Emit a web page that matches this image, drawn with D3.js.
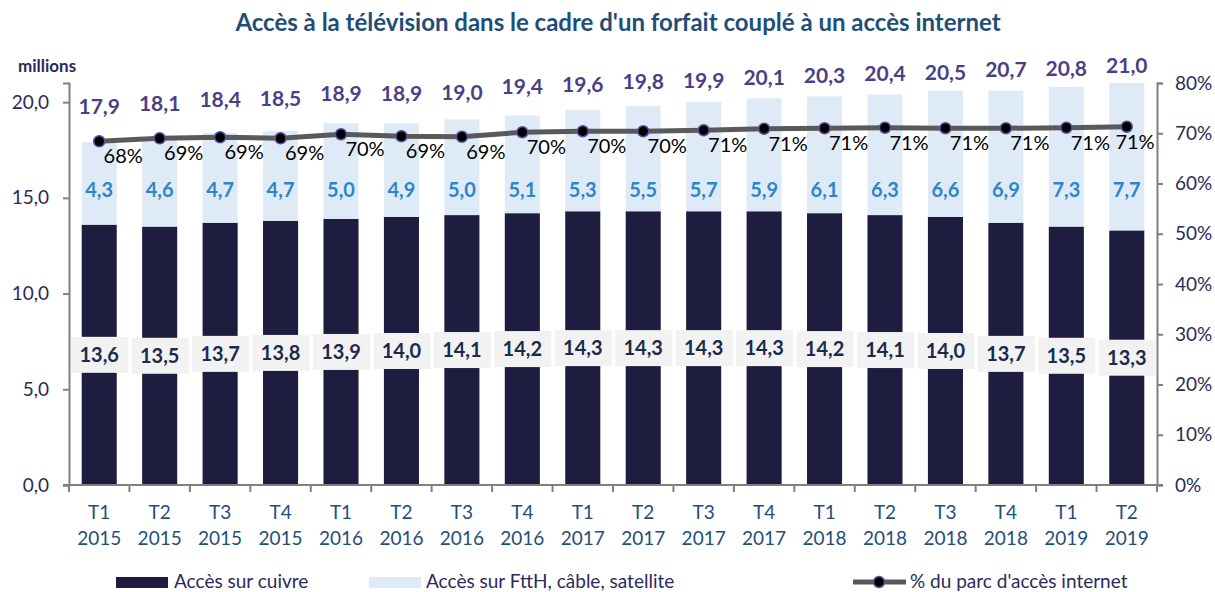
<!DOCTYPE html>
<html>
<head>
<meta charset="utf-8">
<script src="https://cdn.jsdelivr.net/npm/d3@7"></script>
<style>
  body { margin: 0; background: #fff; font-family: Lato, "Open Sans", sans-serif; }
  svg { display: block; }
</style>
</head>
<body>
<div id="chart"></div>
<script>
// Accès TV via forfait couplé — stacked bars + % line

const quarters = ["T1","T2","T3","T4","T1","T2","T3","T4","T1","T2","T3","T4","T1","T2","T3","T4","T1","T2"];
const years = ["2015","2015","2015","2015","2016","2016","2016","2016","2017","2017","2017","2017","2018","2018","2018","2018","2019","2019"];
const cuivre = [13.6,13.5,13.7,13.8,13.9,14.0,14.1,14.2,14.3,14.3,14.3,14.3,14.2,14.1,14.0,13.7,13.5,13.3];
const ftth = [4.3,4.6,4.7,4.7,5.0,4.9,5.0,5.1,5.3,5.5,5.7,5.9,6.1,6.3,6.6,6.9,7.3,7.7];
const totals = [17.9,18.1,18.4,18.5,18.9,18.9,19.0,19.4,19.6,19.8,19.9,20.1,20.3,20.4,20.5,20.7,20.8,21.0];
const pctParc = [68.4,69.0,69.2,69.0,69.8,69.4,69.3,70.2,70.4,70.4,70.6,70.9,71.0,71.1,71.0,71.0,71.1,71.3];
const leftTicks = [0,5,10,15,20];
const rightTicks = [0,10,20,30,40,50,60,70,80];

const W = 1215, H = 592;
const margin = { top: 83, right: 58, bottom: 107, left: 69 };
const width = W - margin.left - margin.right;
const height = H - margin.top - margin.bottom;

const fmt = d3.format(".1f");
const comma = v => fmt(v).replace(".", ",");

const data = quarters.map((q, i) => ({
  key: i, q: q, y: years[i], cu: cuivre[i], ft: ftth[i], tot: totals[i], pct: pctParc[i]
}));

const svg = d3.select("#chart").append("svg")
  .attr("width", W).attr("height", H);

svg.append("text")
  .attr("x", 618).attr("y", 31)
  .attr("text-anchor", "middle")
  .style("font-size", "24px").style("font-weight", "700")
  .style("fill", "#1f4e79")
  .text("Accès à la télévision dans le cadre d'un forfait couplé à un accès internet");

svg.append("text")
  .attr("x", 18).attr("y", 72)
  .style("font-size", "17px").style("font-weight", "700")
  .style("fill", "#2b2a5a")
  .text("millions");

const g = svg.append("g").attr("transform", `translate(${margin.left},${margin.top})`);

const x = d3.scaleBand().domain(data.map(d => d.key)).range([0, width]).paddingInner(0.42).paddingOuter(0.21);
const y = d3.scaleLinear().domain([0, 21]).range([height, 0]);
const y2 = d3.scaleLinear().domain([0, 80]).range([height, 0]);

// bars
g.selectAll(".cu").data(data).enter().append("rect")
  .attr("x", d => x(d.key)).attr("width", x.bandwidth())
  .attr("y", d => y(d.cu)).attr("height", d => y(0) - y(d.cu))
  .attr("fill", "#1e1c3f");

g.selectAll(".ft").data(data).enter().append("rect")
  .attr("x", d => x(d.key)).attr("width", x.bandwidth())
  .attr("y", d => y(d.cu + d.ft)).attr("height", d => y(d.cu) - y(d.cu + d.ft))
  .attr("fill", "#deebf7");

// axes
const axisColor = "#808080";
const styleAxis = sel => {
  sel.selectAll("path, line").attr("stroke", axisColor).attr("stroke-width", 2);
  sel.selectAll("text").style("font-size", "19px").style("fill", "#2b2a5a").style("font-family", "Lato, sans-serif");
};

const xAxis = g.append("g").attr("transform", `translate(0,${height})`);
xAxis.append("line").attr("x1", -6).attr("x2", width + 6).attr("stroke", axisColor).attr("stroke-width", 2);
const step = x.step();
xAxis.selectAll(".xt").data(d3.range(data.length + 1)).enter().append("line")
  .attr("x1", i => i * step).attr("x2", i => i * step)
  .attr("y1", 0).attr("y2", 7)
  .attr("stroke", axisColor).attr("stroke-width", 2);
const xl = xAxis.selectAll(".xl").data(data).enter().append("text")
  .attr("x", d => x(d.key) + x.bandwidth() / 2)
  .attr("text-anchor", "middle")
  .style("font-size", "19px").style("fill", "#1f4e79");
xl.append("tspan").attr("x", d => x(d.key) + x.bandwidth() / 2).attr("y", 34).text(d => d.q);
xl.append("tspan").attr("x", d => x(d.key) + x.bandwidth() / 2).attr("y", 60).text(d => d.y);

g.append("g")
  .call(d3.axisLeft(y).tickValues(leftTicks).tickSize(6).tickPadding(14).tickFormat(comma))
  .call(styleAxis);

g.append("g").attr("transform", `translate(${width},0)`)
  .call(d3.axisRight(y2).tickValues(rightTicks).tickSize(6).tickPadding(12).tickFormat(d => d + "%"))
  .call(styleAxis);

// copper labels in grey boxes
const cuLab = g.selectAll(".cul").data(data).enter().append("g")
  .attr("transform", d => `translate(${x(d.key) + x.bandwidth() / 2},${y(d.cu / 2)})`);
cuLab.append("rect").attr("x", -28).attr("y", -18).attr("width", 57).attr("height", 36).attr("fill", "#f2f2f2");
cuLab.append("text").attr("text-anchor", "middle").attr("dy", "0.36em")
  .style("font-size", "20px").style("font-weight", "700").style("fill", "#1b2b4b")
  .text(d => comma(d.cu));

// ftth labels
g.selectAll(".ftl").data(data).enter().append("text")
  .attr("x", d => x(d.key) + x.bandwidth() / 2)
  .attr("y", y(15.4))
  .attr("dy", "0.36em").attr("text-anchor", "middle")
  .style("font-size", "20px").style("font-weight", "700").style("fill", "#2e86c8")
  .text(d => comma(d.ft));

// total labels
g.selectAll(".tl").data(data).enter().append("text")
  .attr("x", d => x(d.key) + x.bandwidth() / 2)
  .attr("y", d => y(d.tot) - 36 + (d.tot - 17.9) * 6.1)
  .attr("dy", "0.36em").attr("text-anchor", "middle")
  .style("font-size", "21px").style("font-weight", "700").style("fill", "#4b3f87")
  .text(d => comma(d.tot));

// line
const line = d3.line().x(d => x(d.key) + x.bandwidth() / 2).y(d => y2(d.pct));
g.append("path").datum(data).attr("d", line)
  .attr("fill", "none").attr("stroke", "#595959").attr("stroke-width", 5);
g.selectAll(".pt").data(data).enter().append("circle")
  .attr("cx", d => x(d.key) + x.bandwidth() / 2).attr("cy", d => y2(d.pct)).attr("r", 5.5)
  .attr("fill", "#000").attr("stroke", "#5b4fa0").attr("stroke-width", 1.5);
g.selectAll(".pl").data(data).enter().append("text")
  .attr("x", d => Math.min(x(d.key) + x.bandwidth() / 2 + 24, width - 22))
  .attr("y", d => y2(d.pct) + 15)
  .attr("dy", "0.36em").attr("text-anchor", "middle")
  .style("font-size", "20px").style("fill", "#000")
  .text(d => Math.round(d.pct) + "%");

// legend
const leg = svg.append("g").attr("transform", `translate(0,582)`);
leg.append("rect").attr("x", 116).attr("y", -5).attr("width", 52).attr("height", 11).attr("fill", "#1e1c3f");
leg.append("text").attr("x", 174).attr("y", 6).style("font-size", "19px").style("fill", "#2b2a5a").text("Accès sur cuivre");
leg.append("rect").attr("x", 369).attr("y", -5).attr("width", 52).attr("height", 11).attr("fill", "#deebf7");
leg.append("text").attr("x", 426).attr("y", 6).style("font-size", "19px").style("fill", "#2b2a5a").text("Accès sur FttH, câble, satellite");
leg.append("line").attr("x1", 853).attr("x2", 906).attr("y1", 0).attr("y2", 0).attr("stroke", "#595959").attr("stroke-width", 5);
leg.append("circle").attr("cx", 879).attr("cy", 0).attr("r", 5.5).attr("fill", "#000").attr("stroke", "#5b4fa0").attr("stroke-width", 1.5);
leg.append("text").attr("x", 910).attr("y", 6).style("font-size", "19px").style("fill", "#2b2a5a").text("% du parc d'accès internet");
</script>
</body>
</html>
